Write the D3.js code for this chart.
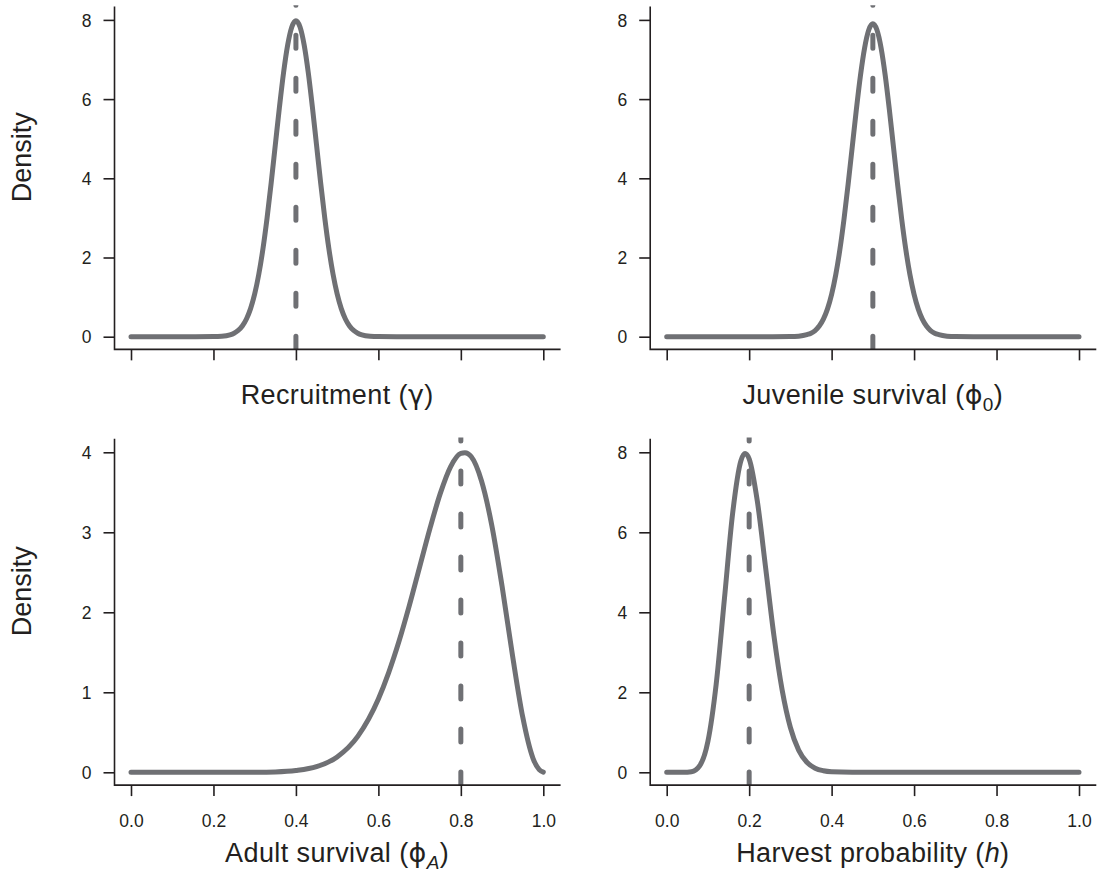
<!DOCTYPE html>
<html>
<head>
<meta charset="utf-8">
<script src="https://cdn.jsdelivr.net/npm/d3@7"></script>
<style>
  html, body { margin: 0; padding: 0; background: #ffffff; }
  svg { display: block; font-family: "Liberation Sans", Arial, Helvetica, sans-serif; }
</style>
</head>
<body>
<svg id="chart" width="1102" height="878"></svg>
<script>
// ---------------- data ----------------
const xTickValues = [0, 0.2, 0.4, 0.6, 0.8, 1.0];
const yTicksDensity8 = [0, 2, 4, 6, 8];
const yTicksDensity4 = [0, 1, 2, 3, 4];

const recruitX = [0,0.1,0.2,0.22,0.24,0.25,0.26,0.27,0.28,0.29,0.30,0.31,0.32,0.33,0.34,0.35,0.36,0.37,0.38,0.39,0.40,0.41,0.42,0.43,0.44,0.45,0.46,0.47,0.48,0.49,0.50,0.51,0.52,0.53,0.54,0.55,0.56,0.58,0.60,0.7,0.8,0.9,1.0];
const recruitY = [0,0,0.003,0.012,0.048,0.089,0.158,0.271,0.448,0.709,1.080,1.579,2.218,2.995,3.884,4.840,5.794,6.666,7.366,7.822,7.98,7.822,7.366,6.666,5.794,4.840,3.884,2.995,2.218,1.579,1.080,0.709,0.448,0.271,0.158,0.089,0.048,0.012,0.003,0,0,0,0];

const juvenileX = [0,0.1,0.2,0.3,0.32,0.34,0.35,0.36,0.37,0.38,0.39,0.40,0.41,0.42,0.43,0.44,0.45,0.46,0.47,0.48,0.49,0.50,0.51,0.52,0.53,0.54,0.55,0.56,0.57,0.58,0.59,0.60,0.61,0.62,0.63,0.64,0.65,0.66,0.68,0.70,0.8,0.9,1.0];
const juvenileY = [0,0,0,0.003,0.014,0.052,0.088,0.156,0.269,0.443,0.702,1.069,1.563,2.196,2.965,3.846,4.791,5.736,6.599,7.292,7.744,7.9,7.744,7.292,6.599,5.736,4.791,3.846,2.965,2.196,1.563,1.069,0.702,0.443,0.269,0.156,0.088,0.052,0.014,0.003,0,0,0];

const adultX = [0,0.1,0.2,0.25,0.3,0.35,0.4,0.45,0.5,0.55,0.6,0.625,0.65,0.675,0.7,0.725,0.75,0.775,0.8,0.81,0.825,0.85,0.875,0.9,0.925,0.95,0.975,0.99,1.0];
const adultY = [0,0,0,0.0001,0.001,0.005,0.022,0.070,0.192,0.449,0.916,1.246,1.637,2.083,2.565,3.046,3.483,3.819,3.987,3.995,3.947,3.644,3.089,2.326,1.471,0.693,0.175,0.034,0.003];

const harvestX = [0,0.02,0.04,0.06,0.08,0.10,0.12,0.14,0.16,0.18,0.19,0.20,0.22,0.24,0.26,0.28,0.30,0.32,0.34,0.36,0.38,0.40,0.45,0.5,0.6,0.7,0.8,0.9,1.0];
const harvestY = [0,0,0.0004,0.0155,0.164,0.777,2.203,4.336,6.481,7.790,7.971,7.837,6.765,5.108,3.420,2.058,1.120,0.555,0.250,0.103,0.039,0.0136,0.001,0,0,0,0,0,0];

const trueValues = [0.4, 0.5, 0.8, 0.2];
const yMaxes = [8, 8, 4, 8];

// ---------------- drawing ----------------
const svg = d3.select("#chart");
svg.append("rect").attr("width", 1102).attr("height", 878).attr("fill", "#ffffff");

const axisColor = "#231f20";
const curveColor = "#6f7074";
const greekFont = '"DejaVu Sans", "Noto Sans", sans-serif';

const panels = [
  { xs: recruitX, ys: recruitY, tv: trueValues[0], ymax: yMaxes[0], yTicks: yTicksDensity8,
    xr: [131, 543.3], yr: [336.7, 19.9], labels: false, titleY: 404,
    title: [{t: "Recruitment ("}, {t: "γ", greek: true}, {t: ")"}] },
  { xs: juvenileX, ys: juvenileY, tv: trueValues[1], ymax: yMaxes[1], yTicks: yTicksDensity8,
    xr: [666.7, 1079], yr: [336.7, 19.9], labels: false, titleY: 404,
    title: [{t: "Juvenile survival ("}, {t: "ϕ", greek: true}, {t: "0", sub: true}, {t: ")", after: true}] },
  { xs: adultX, ys: adultY, tv: trueValues[2], ymax: yMaxes[2], yTicks: yTicksDensity4,
    xr: [131, 543.3], yr: [772.3, 452.3], labels: true, titleY: 862,
    title: [{t: "Adult survival ("}, {t: "ϕ", greek: true}, {t: "A", sub: true, italic: true}, {t: ")", after: true}] },
  { xs: harvestX, ys: harvestY, tv: trueValues[3], ymax: yMaxes[3], yTicks: yTicksDensity8,
    xr: [666.7, 1079], yr: [772.3, 452.3], labels: true, titleY: 862,
    title: [{t: "Harvest probability ("}, {t: "h", italic: true}, {t: ")"}] }
];

panels.forEach((p, i) => {
  const x = d3.scaleLinear().domain([0, 1]).range(p.xr);
  const y = d3.scaleLinear().domain([0, p.ymax]).range(p.yr);
  const left = x(-0.04), right = x(1.04);
  const bottom = y(-0.04 * p.ymax), top = y(1.04 * p.ymax);
  const g = svg.append("g");

  const clipId = "clip" + i;
  svg.append("clipPath").attr("id", clipId)
    .append("rect").attr("x", left).attr("y", top - 2)
    .attr("width", right - left).attr("height", bottom - top + 2);

  // density curve
  const pts = p.xs.map((v, k) => [v, p.ys[k]]);
  const line = d3.line().x(d => x(d[0])).y(d => y(d[1])).curve(d3.curveMonotoneX);
  g.append("path").datum(pts).attr("d", line)
    .attr("fill", "none").attr("stroke", curveColor).attr("stroke-width", 5)
    .attr("stroke-linecap", "round").attr("stroke-linejoin", "round");

  // true value dashed line (drawn from bottom upward)
  g.append("line").attr("clip-path", `url(#${clipId})`)
    .attr("x1", x(p.tv)).attr("x2", x(p.tv)).attr("y1", bottom).attr("y2", top - 10)
    .attr("stroke", curveColor).attr("stroke-width", 5)
    .attr("stroke-dasharray", "13,30").attr("stroke-linecap", "round");

  // x axis
  const xAxis = d3.axisBottom(x).tickValues(xTickValues).tickSize(11).tickPadding(18)
    .tickFormat(p.labels ? d3.format(".1f") : () => "");
  const gx = g.append("g").attr("transform", `translate(0,${bottom})`).call(xAxis);
  // y axis
  const yAxis = d3.axisLeft(y).tickValues(p.yTicks).tickSize(11).tickPadding(12).tickFormat(d3.format("d"));
  const gy = g.append("g").attr("transform", `translate(${left},0)`).call(yAxis);
  [gx, gy].forEach(ax => {
    ax.select(".domain").remove();
    ax.selectAll(".tick line").attr("stroke", axisColor).attr("stroke-width", 1.6);
    ax.selectAll(".tick text").attr("fill", axisColor).style("font-size", "17.5px")
      .style("font-family", '"Liberation Sans", Arial, sans-serif');
  });
  gy.selectAll(".tick text").attr("dy", "0.35em");

  // L-shaped box
  g.append("path")
    .attr("d", `M${left},${top}L${left},${bottom}L${right},${bottom}`)
    .attr("fill", "none").attr("stroke", axisColor).attr("stroke-width", 1.6)
    .attr("stroke-linecap", "square");

  // x title
  const t = g.append("text").attr("x", (left + right) / 2).attr("y", p.titleY)
    .attr("text-anchor", "middle").attr("fill", axisColor)
    .style("font-size", "27px").style("letter-spacing", "0.4px");
  p.title.forEach(part => {
    const ts = t.append("tspan").text(part.t);
    if (part.greek) ts.style("font-family", greekFont);
    if (part.sub) ts.attr("dy", 7).style("font-size", "19px");
    if (part.italic) ts.style("font-style", "italic");
    if (part.after) ts.attr("dy", -7);
  });

  // y title
  if (i % 2 === 0) {
    const cy = (top + bottom) / 2 - 21;
    g.append("text").attr("transform", `translate(31,${cy}) rotate(-90)`)
      .attr("text-anchor", "middle").attr("fill", axisColor)
      .style("font-size", "27px").text("Density");
  }
});
</script>
</body>
</html>
